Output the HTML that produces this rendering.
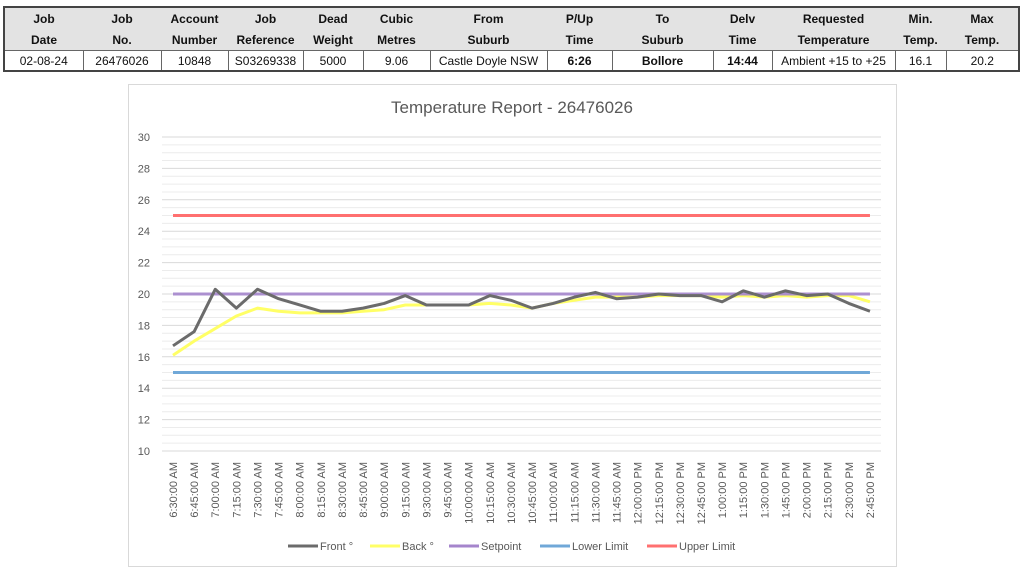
<!DOCTYPE html>
<html><head><meta charset="utf-8"><style>
body{margin:0;background:#fff;width:1024px;height:575px;overflow:hidden;font-family:"Liberation Sans",sans-serif}
table{position:absolute;left:3px;top:6px;width:1017px;border-collapse:collapse;font-size:12px;font-weight:bold;color:#111}
td{text-align:center;padding:0;border:1px solid #666}
tr.h td{background:#e3e3e3;height:21px;border-top:none;border-bottom:none;border-left:none;border-right:none}
tr.d td{height:19px;font-weight:normal}
tr.d td.b{font-weight:bold}
table{border:2px solid #444}
</style></head><body>
<table>
<colgroup><col style="width:79px"><col style="width:78px"><col style="width:67px"><col style="width:75px"><col style="width:60px"><col style="width:67px"><col style="width:117px"><col style="width:65px"><col style="width:101px"><col style="width:59px"><col style="width:123px"><col style="width:51px"><col></colgroup>
<tr class="h"><td>Job</td><td>Job</td><td>Account</td><td>Job</td><td>Dead</td><td>Cubic</td><td>From</td><td>P/Up</td><td>To</td><td>Delv</td><td>Requested</td><td>Min.</td><td>Max</td></tr>
<tr class="h"><td>Date</td><td>No.</td><td>Number</td><td>Reference</td><td>Weight</td><td>Metres</td><td>Suburb</td><td>Time</td><td>Suburb</td><td>Time</td><td>Temperature</td><td>Temp.</td><td>Temp.</td></tr>
<tr class="d"><td>02-08-24</td><td>26476026</td><td>10848</td><td>S03269338</td><td>5000</td><td>9.06</td><td>Castle Doyle NSW</td><td class="b">6:26</td><td class="b">Bollore</td><td class="b">14:44</td><td>Ambient +15 to +25</td><td>16.1</td><td>20.2</td></tr>
</table>
<svg id="c" style="position:absolute;left:0;top:0" width="1024" height="575"></svg>
<script>
const s=document.getElementById('c');let h='';
h+='<rect x="128.5" y="84.5" width="768" height="482" fill="#fff" stroke="#d9d9d9"/>';
h+='<text x="512" y="113" font-size="17" fill="#595959" text-anchor="middle" font-family="Liberation Sans">Temperature Report - 26476026</text>';
const Y=v=>451-(v-10)*15.7;
for(let v=10;v<=30;v+=0.5){const y=Y(v);h+=`<line x1="162" x2="881" y1="${y}" y2="${y}" stroke="${v%2==0?'#d9d9d9':'#ececec'}" stroke-width="1"/>`;
if(v%2==0)h+=`<text x="150" y="${y+4}" font-size="11" fill="#595959" text-anchor="end">${v}</text>`;}
const X=i=>173+i*21.12;
const F=[16.7,17.6,20.3,19.1,20.3,19.7,19.3,18.9,18.9,19.1,19.4,19.9,19.3,19.3,19.3,19.9,19.6,19.1,19.4,19.8,20.1,19.7,19.8,20.0,19.9,19.9,19.5,20.2,19.8,20.2,19.9,20.0,19.4,18.9];
const B=[16.1,17.0,17.8,18.6,19.1,18.9,18.8,18.8,18.8,18.9,19.0,19.3,19.3,19.3,19.3,19.4,19.3,19.1,19.4,19.6,19.8,19.8,19.8,19.9,19.9,19.9,19.8,19.9,19.8,19.9,19.8,19.9,19.9,19.5];
const pl=(a,c)=>`<polyline fill="none" stroke="${c}" stroke-width="3" stroke-linejoin="round" points="${a.map((v,i)=>X(i)+','+Y(v)).join(' ')}"/>`;
const flat=v=>Array(34).fill(v);
h+=pl(flat(25),'#ff7070')+pl(flat(15),'#70a8d8')+pl(B,'#ffff66')+pl(flat(20),'#a585cc')+pl(F,'#6b6b6b');
h=h.replace(/(<polyline[^>]*#a585cc[^>]*)\/>/,'$1 stroke-opacity="0.9"/>');
for(let i=0;i<34;i++){let m=390+i*15,hh=Math.floor(m/60),mm=m%60,ap=hh>=12?'PM':'AM';let hd=hh>12?hh-12:hh;
h+=`<text transform="translate(${X(i)+4},462) rotate(-90)" font-size="11" fill="#595959" text-anchor="end">${hd}:${String(mm).padStart(2,'0')}:00 ${ap}</text>`;}
const L=[[288,'#6b6b6b','Front °'],[370,'#ffff66','Back °'],[449,'#a585cc','Setpoint'],[540,'#70a8d8','Lower Limit'],[647,'#ff7070','Upper Limit']];
for(const [x,c,t] of L){h+=`<line x1="${x}" x2="${x+30}" y1="546" y2="546" stroke="${c}" stroke-width="3"/><text x="${x+32}" y="550" font-size="11" fill="#595959">${t}</text>`;}
s.innerHTML=h;
</script>
</body></html>
